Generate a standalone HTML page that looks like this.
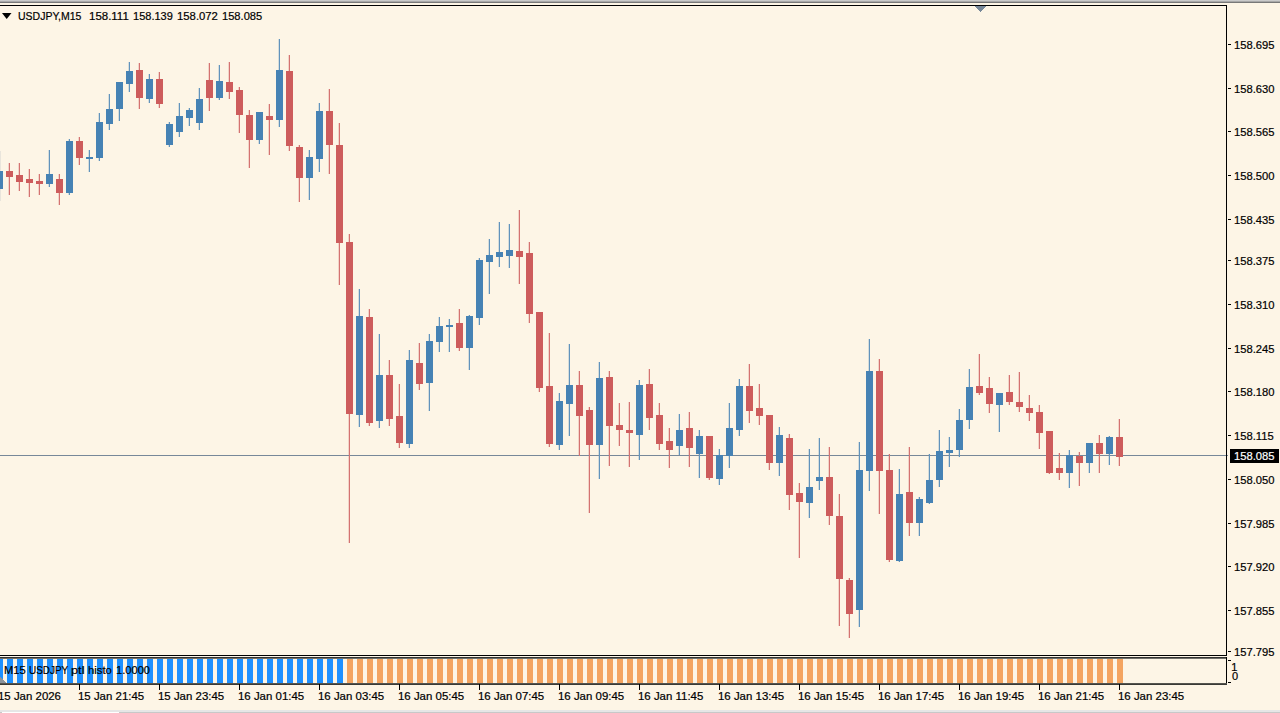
<!DOCTYPE html>
<html><head><meta charset="utf-8"><style>
html,body{margin:0;padding:0;width:1280px;height:713px;overflow:hidden;background:#FDF5E6;}
.t{position:absolute;font-family:"Liberation Sans",sans-serif;font-size:11px;line-height:12px;white-space:nowrap;-webkit-text-stroke:0.2px currentColor;}
</style></head><body>
<svg width="1280" height="713" viewBox="0 0 1280 713" shape-rendering="crispEdges" style="position:absolute;left:0;top:0"><rect x="0" y="0" width="1280" height="1" fill="#cacaca"/><rect x="0" y="1" width="1280" height="1" fill="#a8a8a8"/><rect x="0" y="2" width="1280" height="1" fill="#787878"/><rect x="-2" y="171" width="1" height="0" fill="#d5dcdb"/><rect x="8" y="163" width="1" height="32" fill="#f2d3c8"/><rect x="18" y="163" width="1" height="28" fill="#f2d3c8"/><rect x="28" y="169" width="1" height="28" fill="#f2d3c8"/><rect x="38" y="174" width="1" height="21" fill="#f2d3c8"/><rect x="48" y="150" width="1" height="37" fill="#d5dcdb"/><rect x="58" y="174" width="1" height="31" fill="#f2d3c8"/><rect x="68" y="139" width="1" height="56" fill="#d5dcdb"/><rect x="78" y="137" width="1" height="28" fill="#f2d3c8"/><rect x="88" y="150" width="1" height="22" fill="#d5dcdb"/><rect x="98" y="113" width="1" height="48" fill="#d5dcdb"/><rect x="108" y="94" width="1" height="36" fill="#d5dcdb"/><rect x="118" y="82" width="1" height="39" fill="#d5dcdb"/><rect x="128" y="62" width="1" height="30" fill="#d5dcdb"/><rect x="138" y="63" width="1" height="46" fill="#f2d3c8"/><rect x="148" y="74" width="1" height="29" fill="#d5dcdb"/><rect x="158" y="72" width="1" height="36" fill="#f2d3c8"/><rect x="168" y="122" width="1" height="25" fill="#d5dcdb"/><rect x="178" y="103" width="1" height="34" fill="#d5dcdb"/><rect x="188" y="108" width="1" height="18" fill="#d5dcdb"/><rect x="198" y="88" width="1" height="42" fill="#d5dcdb"/><rect x="208" y="63" width="1" height="48" fill="#f2d3c8"/><rect x="218" y="65" width="1" height="35" fill="#d5dcdb"/><rect x="228" y="62" width="1" height="37" fill="#f2d3c8"/><rect x="238" y="87" width="1" height="46" fill="#f2d3c8"/><rect x="248" y="110" width="1" height="58" fill="#f2d3c8"/><rect x="258" y="112" width="1" height="32" fill="#d5dcdb"/><rect x="268" y="104" width="1" height="51" fill="#f2d3c8"/><rect x="278" y="39" width="1" height="88" fill="#d5dcdb"/><rect x="288" y="55" width="1" height="96" fill="#f2d3c8"/><rect x="298" y="145" width="1" height="57" fill="#f2d3c8"/><rect x="308" y="150" width="1" height="50" fill="#d5dcdb"/><rect x="318" y="103" width="1" height="69" fill="#d5dcdb"/><rect x="328" y="89" width="1" height="85" fill="#f2d3c8"/><rect x="338" y="123" width="1" height="162" fill="#f2d3c8"/><rect x="348" y="234" width="1" height="309" fill="#f2d3c8"/><rect x="358" y="289" width="1" height="138" fill="#d5dcdb"/><rect x="368" y="309" width="1" height="117" fill="#f2d3c8"/><rect x="378" y="334" width="1" height="94" fill="#d5dcdb"/><rect x="388" y="360" width="1" height="66" fill="#f2d3c8"/><rect x="398" y="384" width="1" height="64" fill="#f2d3c8"/><rect x="408" y="350" width="1" height="98" fill="#d5dcdb"/><rect x="418" y="343" width="1" height="47" fill="#f2d3c8"/><rect x="428" y="334" width="1" height="77" fill="#d5dcdb"/><rect x="438" y="317" width="1" height="35" fill="#d5dcdb"/><rect x="448" y="319" width="1" height="33" fill="#d5dcdb"/><rect x="458" y="309" width="1" height="42" fill="#f2d3c8"/><rect x="468" y="315" width="1" height="55" fill="#d5dcdb"/><rect x="478" y="258" width="1" height="67" fill="#d5dcdb"/><rect x="488" y="239" width="1" height="55" fill="#d5dcdb"/><rect x="498" y="222" width="1" height="45" fill="#d5dcdb"/><rect x="508" y="224" width="1" height="44" fill="#d5dcdb"/><rect x="518" y="210" width="1" height="74" fill="#f2d3c8"/><rect x="528" y="242" width="1" height="81" fill="#f2d3c8"/><rect x="538" y="312" width="1" height="80" fill="#f2d3c8"/><rect x="548" y="333" width="1" height="114" fill="#f2d3c8"/><rect x="558" y="393" width="1" height="57" fill="#d5dcdb"/><rect x="568" y="344" width="1" height="92" fill="#d5dcdb"/><rect x="578" y="371" width="1" height="85" fill="#f2d3c8"/><rect x="588" y="407" width="1" height="106" fill="#f2d3c8"/><rect x="598" y="362" width="1" height="117" fill="#d5dcdb"/><rect x="608" y="371" width="1" height="95" fill="#f2d3c8"/><rect x="618" y="403" width="1" height="43" fill="#f2d3c8"/><rect x="628" y="402" width="1" height="65" fill="#f2d3c8"/><rect x="638" y="380" width="1" height="80" fill="#d5dcdb"/><rect x="648" y="369" width="1" height="61" fill="#f2d3c8"/><rect x="658" y="403" width="1" height="47" fill="#f2d3c8"/><rect x="668" y="428" width="1" height="40" fill="#f2d3c8"/><rect x="678" y="414" width="1" height="41" fill="#d5dcdb"/><rect x="688" y="412" width="1" height="55" fill="#f2d3c8"/><rect x="698" y="430" width="1" height="48" fill="#d5dcdb"/><rect x="708" y="436" width="1" height="44" fill="#f2d3c8"/><rect x="718" y="449" width="1" height="36" fill="#d5dcdb"/><rect x="728" y="403" width="1" height="65" fill="#d5dcdb"/><rect x="738" y="379" width="1" height="57" fill="#d5dcdb"/><rect x="748" y="364" width="1" height="59" fill="#f2d3c8"/><rect x="758" y="384" width="1" height="41" fill="#f2d3c8"/><rect x="768" y="415" width="1" height="55" fill="#f2d3c8"/><rect x="778" y="427" width="1" height="49" fill="#d5dcdb"/><rect x="788" y="434" width="1" height="76" fill="#f2d3c8"/><rect x="798" y="483" width="1" height="75" fill="#f2d3c8"/><rect x="808" y="449" width="1" height="69" fill="#d5dcdb"/><rect x="818" y="438" width="1" height="52" fill="#d5dcdb"/><rect x="828" y="447" width="1" height="78" fill="#f2d3c8"/><rect x="838" y="494" width="1" height="132" fill="#f2d3c8"/><rect x="848" y="578" width="1" height="60" fill="#f2d3c8"/><rect x="858" y="442" width="1" height="185" fill="#d5dcdb"/><rect x="868" y="339" width="1" height="152" fill="#d5dcdb"/><rect x="878" y="359" width="1" height="155" fill="#f2d3c8"/><rect x="888" y="454" width="1" height="108" fill="#f2d3c8"/><rect x="898" y="469" width="1" height="93" fill="#d5dcdb"/><rect x="908" y="447" width="1" height="89" fill="#f2d3c8"/><rect x="918" y="497" width="1" height="39" fill="#d5dcdb"/><rect x="928" y="454" width="1" height="50" fill="#d5dcdb"/><rect x="938" y="430" width="1" height="57" fill="#d5dcdb"/><rect x="948" y="437" width="1" height="30" fill="#d5dcdb"/><rect x="958" y="409" width="1" height="48" fill="#d5dcdb"/><rect x="968" y="369" width="1" height="60" fill="#d5dcdb"/><rect x="978" y="354" width="1" height="41" fill="#f2d3c8"/><rect x="988" y="377" width="1" height="36" fill="#f2d3c8"/><rect x="998" y="393" width="1" height="39" fill="#d5dcdb"/><rect x="1008" y="375" width="1" height="30" fill="#f2d3c8"/><rect x="1018" y="372" width="1" height="40" fill="#f2d3c8"/><rect x="1028" y="395" width="1" height="26" fill="#f2d3c8"/><rect x="1038" y="405" width="1" height="44" fill="#f2d3c8"/><rect x="1048" y="431" width="1" height="43" fill="#f2d3c8"/><rect x="1058" y="453" width="1" height="27" fill="#f2d3c8"/><rect x="1068" y="450" width="1" height="38" fill="#d5dcdb"/><rect x="1078" y="452" width="1" height="34" fill="#f2d3c8"/><rect x="1088" y="443" width="1" height="30" fill="#d5dcdb"/><rect x="1098" y="435" width="1" height="38" fill="#f2d3c8"/><rect x="1108" y="436" width="1" height="29" fill="#d5dcdb"/><rect x="1118" y="419" width="1" height="47" fill="#f2d3c8"/><rect x="0" y="455" width="1228" height="1" fill="#778899"/><rect x="0" y="151" width="1" height="50" fill="#e9e5dc"/><rect x="0" y="171" width="3" height="18" fill="#4682B4"/><rect x="9" y="163" width="1" height="32" fill="#d47371"/><rect x="6" y="171" width="7" height="6" fill="#CD5C5C"/><rect x="19" y="163" width="1" height="28" fill="#d47371"/><rect x="16" y="175" width="7" height="7" fill="#CD5C5C"/><rect x="29" y="169" width="1" height="28" fill="#d47371"/><rect x="26" y="179" width="7" height="4" fill="#CD5C5C"/><rect x="39" y="174" width="1" height="21" fill="#d47371"/><rect x="36" y="181" width="7" height="3" fill="#CD5C5C"/><rect x="49" y="150" width="1" height="37" fill="#6193bc"/><rect x="46" y="174" width="7" height="10" fill="#4682B4"/><rect x="59" y="174" width="1" height="31" fill="#d47371"/><rect x="56" y="179" width="7" height="14" fill="#CD5C5C"/><rect x="69" y="139" width="1" height="56" fill="#6193bc"/><rect x="66" y="141" width="7" height="52" fill="#4682B4"/><rect x="79" y="137" width="1" height="28" fill="#d47371"/><rect x="76" y="141" width="7" height="17" fill="#CD5C5C"/><rect x="89" y="150" width="1" height="22" fill="#6193bc"/><rect x="86" y="157" width="7" height="2" fill="#4682B4"/><rect x="99" y="113" width="1" height="48" fill="#6193bc"/><rect x="96" y="122" width="7" height="36" fill="#4682B4"/><rect x="109" y="94" width="1" height="36" fill="#6193bc"/><rect x="106" y="109" width="7" height="15" fill="#4682B4"/><rect x="119" y="82" width="1" height="39" fill="#6193bc"/><rect x="116" y="82" width="7" height="27" fill="#4682B4"/><rect x="129" y="62" width="1" height="30" fill="#6193bc"/><rect x="126" y="71" width="7" height="13" fill="#4682B4"/><rect x="139" y="63" width="1" height="46" fill="#d47371"/><rect x="136" y="70" width="7" height="28" fill="#CD5C5C"/><rect x="149" y="74" width="1" height="29" fill="#6193bc"/><rect x="146" y="79" width="7" height="20" fill="#4682B4"/><rect x="159" y="72" width="1" height="36" fill="#d47371"/><rect x="156" y="79" width="7" height="25" fill="#CD5C5C"/><rect x="169" y="122" width="1" height="25" fill="#6193bc"/><rect x="166" y="124" width="7" height="21" fill="#4682B4"/><rect x="179" y="103" width="1" height="34" fill="#6193bc"/><rect x="176" y="116" width="7" height="16" fill="#4682B4"/><rect x="189" y="108" width="1" height="18" fill="#6193bc"/><rect x="186" y="110" width="7" height="8" fill="#4682B4"/><rect x="199" y="88" width="1" height="42" fill="#6193bc"/><rect x="196" y="99" width="7" height="24" fill="#4682B4"/><rect x="209" y="63" width="1" height="48" fill="#d47371"/><rect x="206" y="80" width="7" height="18" fill="#CD5C5C"/><rect x="219" y="65" width="1" height="35" fill="#6193bc"/><rect x="216" y="81" width="7" height="17" fill="#4682B4"/><rect x="229" y="62" width="1" height="37" fill="#d47371"/><rect x="226" y="82" width="7" height="10" fill="#CD5C5C"/><rect x="239" y="87" width="1" height="46" fill="#d47371"/><rect x="236" y="90" width="7" height="25" fill="#CD5C5C"/><rect x="249" y="110" width="1" height="58" fill="#d47371"/><rect x="246" y="115" width="7" height="25" fill="#CD5C5C"/><rect x="259" y="112" width="1" height="32" fill="#6193bc"/><rect x="256" y="112" width="7" height="28" fill="#4682B4"/><rect x="269" y="104" width="1" height="51" fill="#d47371"/><rect x="266" y="116" width="7" height="4" fill="#CD5C5C"/><rect x="279" y="39" width="1" height="88" fill="#6193bc"/><rect x="276" y="70" width="7" height="50" fill="#4682B4"/><rect x="289" y="55" width="1" height="96" fill="#d47371"/><rect x="286" y="71" width="7" height="75" fill="#CD5C5C"/><rect x="299" y="145" width="1" height="57" fill="#d47371"/><rect x="296" y="147" width="7" height="31" fill="#CD5C5C"/><rect x="309" y="150" width="1" height="50" fill="#6193bc"/><rect x="306" y="157" width="7" height="21" fill="#4682B4"/><rect x="319" y="103" width="1" height="69" fill="#6193bc"/><rect x="316" y="111" width="7" height="48" fill="#4682B4"/><rect x="329" y="89" width="1" height="85" fill="#d47371"/><rect x="326" y="111" width="7" height="34" fill="#CD5C5C"/><rect x="339" y="123" width="1" height="162" fill="#d47371"/><rect x="336" y="145" width="7" height="98" fill="#CD5C5C"/><rect x="349" y="234" width="1" height="309" fill="#d47371"/><rect x="346" y="242" width="7" height="172" fill="#CD5C5C"/><rect x="359" y="289" width="1" height="138" fill="#6193bc"/><rect x="356" y="316" width="7" height="99" fill="#4682B4"/><rect x="369" y="309" width="1" height="117" fill="#d47371"/><rect x="366" y="317" width="7" height="106" fill="#CD5C5C"/><rect x="379" y="334" width="1" height="94" fill="#6193bc"/><rect x="376" y="375" width="7" height="46" fill="#4682B4"/><rect x="389" y="360" width="1" height="66" fill="#d47371"/><rect x="386" y="375" width="7" height="44" fill="#CD5C5C"/><rect x="399" y="384" width="1" height="64" fill="#d47371"/><rect x="396" y="416" width="7" height="27" fill="#CD5C5C"/><rect x="409" y="350" width="1" height="98" fill="#6193bc"/><rect x="406" y="360" width="7" height="84" fill="#4682B4"/><rect x="419" y="343" width="1" height="47" fill="#d47371"/><rect x="416" y="363" width="7" height="21" fill="#CD5C5C"/><rect x="429" y="334" width="1" height="77" fill="#6193bc"/><rect x="426" y="341" width="7" height="42" fill="#4682B4"/><rect x="439" y="317" width="1" height="35" fill="#6193bc"/><rect x="436" y="326" width="7" height="16" fill="#4682B4"/><rect x="449" y="319" width="1" height="33" fill="#6193bc"/><rect x="446" y="325" width="7" height="2" fill="#4682B4"/><rect x="459" y="309" width="1" height="42" fill="#d47371"/><rect x="456" y="323" width="7" height="25" fill="#CD5C5C"/><rect x="469" y="315" width="1" height="55" fill="#6193bc"/><rect x="466" y="316" width="7" height="32" fill="#4682B4"/><rect x="479" y="258" width="1" height="67" fill="#6193bc"/><rect x="476" y="260" width="7" height="58" fill="#4682B4"/><rect x="489" y="239" width="1" height="55" fill="#6193bc"/><rect x="486" y="255" width="7" height="7" fill="#4682B4"/><rect x="499" y="222" width="1" height="45" fill="#6193bc"/><rect x="496" y="252" width="7" height="5" fill="#4682B4"/><rect x="509" y="224" width="1" height="44" fill="#6193bc"/><rect x="506" y="250" width="7" height="6" fill="#4682B4"/><rect x="519" y="210" width="1" height="74" fill="#d47371"/><rect x="516" y="251" width="7" height="6" fill="#CD5C5C"/><rect x="529" y="242" width="1" height="81" fill="#d47371"/><rect x="526" y="253" width="7" height="61" fill="#CD5C5C"/><rect x="539" y="312" width="1" height="80" fill="#d47371"/><rect x="536" y="312" width="7" height="76" fill="#CD5C5C"/><rect x="549" y="333" width="1" height="114" fill="#d47371"/><rect x="546" y="386" width="7" height="58" fill="#CD5C5C"/><rect x="559" y="393" width="1" height="57" fill="#6193bc"/><rect x="556" y="401" width="7" height="44" fill="#4682B4"/><rect x="569" y="344" width="1" height="92" fill="#6193bc"/><rect x="566" y="385" width="7" height="19" fill="#4682B4"/><rect x="579" y="371" width="1" height="85" fill="#d47371"/><rect x="576" y="385" width="7" height="31" fill="#CD5C5C"/><rect x="589" y="407" width="1" height="106" fill="#d47371"/><rect x="586" y="410" width="7" height="35" fill="#CD5C5C"/><rect x="599" y="362" width="1" height="117" fill="#6193bc"/><rect x="596" y="378" width="7" height="67" fill="#4682B4"/><rect x="609" y="371" width="1" height="95" fill="#d47371"/><rect x="606" y="377" width="7" height="49" fill="#CD5C5C"/><rect x="619" y="403" width="1" height="43" fill="#d47371"/><rect x="616" y="425" width="7" height="5" fill="#CD5C5C"/><rect x="629" y="402" width="1" height="65" fill="#d47371"/><rect x="626" y="430" width="7" height="3" fill="#CD5C5C"/><rect x="639" y="380" width="1" height="80" fill="#6193bc"/><rect x="636" y="385" width="7" height="50" fill="#4682B4"/><rect x="649" y="369" width="1" height="61" fill="#d47371"/><rect x="646" y="384" width="7" height="34" fill="#CD5C5C"/><rect x="659" y="403" width="1" height="47" fill="#d47371"/><rect x="656" y="415" width="7" height="29" fill="#CD5C5C"/><rect x="669" y="428" width="1" height="40" fill="#d47371"/><rect x="666" y="441" width="7" height="9" fill="#CD5C5C"/><rect x="679" y="414" width="1" height="41" fill="#6193bc"/><rect x="676" y="430" width="7" height="16" fill="#4682B4"/><rect x="689" y="412" width="1" height="55" fill="#d47371"/><rect x="686" y="428" width="7" height="20" fill="#CD5C5C"/><rect x="699" y="430" width="1" height="48" fill="#6193bc"/><rect x="696" y="436" width="7" height="18" fill="#4682B4"/><rect x="709" y="436" width="1" height="44" fill="#d47371"/><rect x="706" y="436" width="7" height="42" fill="#CD5C5C"/><rect x="719" y="449" width="1" height="36" fill="#6193bc"/><rect x="716" y="455" width="7" height="24" fill="#4682B4"/><rect x="729" y="403" width="1" height="65" fill="#6193bc"/><rect x="726" y="428" width="7" height="28" fill="#4682B4"/><rect x="739" y="379" width="1" height="57" fill="#6193bc"/><rect x="736" y="386" width="7" height="44" fill="#4682B4"/><rect x="749" y="364" width="1" height="59" fill="#d47371"/><rect x="746" y="386" width="7" height="25" fill="#CD5C5C"/><rect x="759" y="384" width="1" height="41" fill="#d47371"/><rect x="756" y="408" width="7" height="8" fill="#CD5C5C"/><rect x="769" y="415" width="1" height="55" fill="#d47371"/><rect x="766" y="415" width="7" height="48" fill="#CD5C5C"/><rect x="779" y="427" width="1" height="49" fill="#6193bc"/><rect x="776" y="435" width="7" height="28" fill="#4682B4"/><rect x="789" y="434" width="1" height="76" fill="#d47371"/><rect x="786" y="438" width="7" height="57" fill="#CD5C5C"/><rect x="799" y="483" width="1" height="75" fill="#d47371"/><rect x="796" y="493" width="7" height="9" fill="#CD5C5C"/><rect x="809" y="449" width="1" height="69" fill="#6193bc"/><rect x="806" y="487" width="7" height="16" fill="#4682B4"/><rect x="819" y="438" width="1" height="52" fill="#6193bc"/><rect x="816" y="477" width="7" height="4" fill="#4682B4"/><rect x="829" y="447" width="1" height="78" fill="#d47371"/><rect x="826" y="477" width="7" height="39" fill="#CD5C5C"/><rect x="839" y="494" width="1" height="132" fill="#d47371"/><rect x="836" y="516" width="7" height="63" fill="#CD5C5C"/><rect x="849" y="578" width="1" height="60" fill="#d47371"/><rect x="846" y="580" width="7" height="34" fill="#CD5C5C"/><rect x="859" y="442" width="1" height="185" fill="#6193bc"/><rect x="856" y="470" width="7" height="140" fill="#4682B4"/><rect x="869" y="339" width="1" height="152" fill="#6193bc"/><rect x="866" y="371" width="7" height="100" fill="#4682B4"/><rect x="879" y="359" width="1" height="155" fill="#d47371"/><rect x="876" y="371" width="7" height="100" fill="#CD5C5C"/><rect x="889" y="454" width="1" height="108" fill="#d47371"/><rect x="886" y="470" width="7" height="90" fill="#CD5C5C"/><rect x="899" y="469" width="1" height="93" fill="#6193bc"/><rect x="896" y="494" width="7" height="67" fill="#4682B4"/><rect x="909" y="447" width="1" height="89" fill="#d47371"/><rect x="906" y="492" width="7" height="31" fill="#CD5C5C"/><rect x="919" y="497" width="1" height="39" fill="#6193bc"/><rect x="916" y="499" width="7" height="24" fill="#4682B4"/><rect x="929" y="454" width="1" height="50" fill="#6193bc"/><rect x="926" y="480" width="7" height="23" fill="#4682B4"/><rect x="939" y="430" width="1" height="57" fill="#6193bc"/><rect x="936" y="451" width="7" height="29" fill="#4682B4"/><rect x="949" y="437" width="1" height="30" fill="#6193bc"/><rect x="946" y="450" width="7" height="3" fill="#4682B4"/><rect x="959" y="409" width="1" height="48" fill="#6193bc"/><rect x="956" y="420" width="7" height="30" fill="#4682B4"/><rect x="969" y="369" width="1" height="60" fill="#6193bc"/><rect x="966" y="387" width="7" height="33" fill="#4682B4"/><rect x="979" y="354" width="1" height="41" fill="#d47371"/><rect x="976" y="386" width="7" height="7" fill="#CD5C5C"/><rect x="989" y="377" width="1" height="36" fill="#d47371"/><rect x="986" y="388" width="7" height="16" fill="#CD5C5C"/><rect x="999" y="393" width="1" height="39" fill="#6193bc"/><rect x="996" y="393" width="7" height="12" fill="#4682B4"/><rect x="1009" y="375" width="1" height="30" fill="#d47371"/><rect x="1006" y="392" width="7" height="10" fill="#CD5C5C"/><rect x="1019" y="372" width="1" height="40" fill="#d47371"/><rect x="1016" y="402" width="7" height="5" fill="#CD5C5C"/><rect x="1029" y="395" width="1" height="26" fill="#d47371"/><rect x="1026" y="408" width="7" height="5" fill="#CD5C5C"/><rect x="1039" y="405" width="1" height="44" fill="#d47371"/><rect x="1036" y="412" width="7" height="21" fill="#CD5C5C"/><rect x="1049" y="431" width="1" height="43" fill="#d47371"/><rect x="1046" y="431" width="7" height="42" fill="#CD5C5C"/><rect x="1059" y="453" width="1" height="27" fill="#d47371"/><rect x="1056" y="468" width="7" height="5" fill="#CD5C5C"/><rect x="1069" y="450" width="1" height="38" fill="#6193bc"/><rect x="1066" y="455" width="7" height="18" fill="#4682B4"/><rect x="1079" y="452" width="1" height="34" fill="#d47371"/><rect x="1076" y="456" width="7" height="7" fill="#CD5C5C"/><rect x="1089" y="443" width="1" height="30" fill="#6193bc"/><rect x="1086" y="443" width="7" height="20" fill="#4682B4"/><rect x="1099" y="435" width="1" height="38" fill="#d47371"/><rect x="1096" y="443" width="7" height="11" fill="#CD5C5C"/><rect x="1109" y="436" width="1" height="29" fill="#6193bc"/><rect x="1106" y="437" width="7" height="17" fill="#4682B4"/><rect x="1119" y="419" width="1" height="47" fill="#d47371"/><rect x="1116" y="437" width="7" height="20" fill="#CD5C5C"/><rect x="0" y="5" width="1227" height="1" fill="#000"/><rect x="1226" y="5" width="1" height="651" fill="#000"/><rect x="0" y="655" width="1227" height="1" fill="#000"/><rect x="0" y="657" width="1227" height="1" fill="#333333"/><rect x="0" y="658" width="1227" height="1" fill="#70706a"/><rect x="1226" y="657" width="1" height="28" fill="#000"/><rect x="0" y="683" width="1227" height="1" fill="#55554f"/><rect x="0" y="684" width="1227" height="1" fill="#3a3a36"/><rect x="0" y="659" width="3" height="24" fill="#1E90FF"/><rect x="7" y="659" width="6" height="24" fill="#1E90FF"/><rect x="17" y="659" width="6" height="24" fill="#1E90FF"/><rect x="27" y="659" width="6" height="24" fill="#1E90FF"/><rect x="37" y="659" width="6" height="24" fill="#1E90FF"/><rect x="47" y="659" width="6" height="24" fill="#1E90FF"/><rect x="57" y="659" width="6" height="24" fill="#1E90FF"/><rect x="67" y="659" width="6" height="24" fill="#1E90FF"/><rect x="77" y="659" width="6" height="24" fill="#1E90FF"/><rect x="87" y="659" width="6" height="24" fill="#1E90FF"/><rect x="97" y="659" width="6" height="24" fill="#1E90FF"/><rect x="107" y="659" width="6" height="24" fill="#1E90FF"/><rect x="117" y="659" width="6" height="24" fill="#1E90FF"/><rect x="127" y="659" width="6" height="24" fill="#1E90FF"/><rect x="137" y="659" width="6" height="24" fill="#1E90FF"/><rect x="147" y="659" width="6" height="24" fill="#1E90FF"/><rect x="157" y="659" width="6" height="24" fill="#1E90FF"/><rect x="167" y="659" width="6" height="24" fill="#1E90FF"/><rect x="177" y="659" width="6" height="24" fill="#1E90FF"/><rect x="187" y="659" width="6" height="24" fill="#1E90FF"/><rect x="197" y="659" width="6" height="24" fill="#1E90FF"/><rect x="207" y="659" width="6" height="24" fill="#1E90FF"/><rect x="217" y="659" width="6" height="24" fill="#1E90FF"/><rect x="227" y="659" width="6" height="24" fill="#1E90FF"/><rect x="237" y="659" width="6" height="24" fill="#1E90FF"/><rect x="247" y="659" width="6" height="24" fill="#1E90FF"/><rect x="257" y="659" width="6" height="24" fill="#1E90FF"/><rect x="267" y="659" width="6" height="24" fill="#1E90FF"/><rect x="277" y="659" width="6" height="24" fill="#1E90FF"/><rect x="287" y="659" width="6" height="24" fill="#1E90FF"/><rect x="297" y="659" width="6" height="24" fill="#1E90FF"/><rect x="307" y="659" width="6" height="24" fill="#1E90FF"/><rect x="317" y="659" width="6" height="24" fill="#1E90FF"/><rect x="327" y="659" width="6" height="24" fill="#1E90FF"/><rect x="337" y="659" width="6" height="24" fill="#1E90FF"/><rect x="347" y="659" width="6" height="24" fill="#F4A460"/><rect x="357" y="659" width="6" height="24" fill="#F4A460"/><rect x="367" y="659" width="6" height="24" fill="#F4A460"/><rect x="377" y="659" width="6" height="24" fill="#F4A460"/><rect x="387" y="659" width="6" height="24" fill="#F4A460"/><rect x="397" y="659" width="6" height="24" fill="#F4A460"/><rect x="407" y="659" width="6" height="24" fill="#F4A460"/><rect x="417" y="659" width="6" height="24" fill="#F4A460"/><rect x="427" y="659" width="6" height="24" fill="#F4A460"/><rect x="437" y="659" width="6" height="24" fill="#F4A460"/><rect x="447" y="659" width="6" height="24" fill="#F4A460"/><rect x="457" y="659" width="6" height="24" fill="#F4A460"/><rect x="467" y="659" width="6" height="24" fill="#F4A460"/><rect x="477" y="659" width="6" height="24" fill="#F4A460"/><rect x="487" y="659" width="6" height="24" fill="#F4A460"/><rect x="497" y="659" width="6" height="24" fill="#F4A460"/><rect x="507" y="659" width="6" height="24" fill="#F4A460"/><rect x="517" y="659" width="6" height="24" fill="#F4A460"/><rect x="527" y="659" width="6" height="24" fill="#F4A460"/><rect x="537" y="659" width="6" height="24" fill="#F4A460"/><rect x="547" y="659" width="6" height="24" fill="#F4A460"/><rect x="557" y="659" width="6" height="24" fill="#F4A460"/><rect x="567" y="659" width="6" height="24" fill="#F4A460"/><rect x="577" y="659" width="6" height="24" fill="#F4A460"/><rect x="587" y="659" width="6" height="24" fill="#F4A460"/><rect x="597" y="659" width="6" height="24" fill="#F4A460"/><rect x="607" y="659" width="6" height="24" fill="#F4A460"/><rect x="617" y="659" width="6" height="24" fill="#F4A460"/><rect x="627" y="659" width="6" height="24" fill="#F4A460"/><rect x="637" y="659" width="6" height="24" fill="#F4A460"/><rect x="647" y="659" width="6" height="24" fill="#F4A460"/><rect x="657" y="659" width="6" height="24" fill="#F4A460"/><rect x="667" y="659" width="6" height="24" fill="#F4A460"/><rect x="677" y="659" width="6" height="24" fill="#F4A460"/><rect x="687" y="659" width="6" height="24" fill="#F4A460"/><rect x="697" y="659" width="6" height="24" fill="#F4A460"/><rect x="707" y="659" width="6" height="24" fill="#F4A460"/><rect x="717" y="659" width="6" height="24" fill="#F4A460"/><rect x="727" y="659" width="6" height="24" fill="#F4A460"/><rect x="737" y="659" width="6" height="24" fill="#F4A460"/><rect x="747" y="659" width="6" height="24" fill="#F4A460"/><rect x="757" y="659" width="6" height="24" fill="#F4A460"/><rect x="767" y="659" width="6" height="24" fill="#F4A460"/><rect x="777" y="659" width="6" height="24" fill="#F4A460"/><rect x="787" y="659" width="6" height="24" fill="#F4A460"/><rect x="797" y="659" width="6" height="24" fill="#F4A460"/><rect x="807" y="659" width="6" height="24" fill="#F4A460"/><rect x="817" y="659" width="6" height="24" fill="#F4A460"/><rect x="827" y="659" width="6" height="24" fill="#F4A460"/><rect x="837" y="659" width="6" height="24" fill="#F4A460"/><rect x="847" y="659" width="6" height="24" fill="#F4A460"/><rect x="857" y="659" width="6" height="24" fill="#F4A460"/><rect x="867" y="659" width="6" height="24" fill="#F4A460"/><rect x="877" y="659" width="6" height="24" fill="#F4A460"/><rect x="887" y="659" width="6" height="24" fill="#F4A460"/><rect x="897" y="659" width="6" height="24" fill="#F4A460"/><rect x="907" y="659" width="6" height="24" fill="#F4A460"/><rect x="917" y="659" width="6" height="24" fill="#F4A460"/><rect x="927" y="659" width="6" height="24" fill="#F4A460"/><rect x="937" y="659" width="6" height="24" fill="#F4A460"/><rect x="947" y="659" width="6" height="24" fill="#F4A460"/><rect x="957" y="659" width="6" height="24" fill="#F4A460"/><rect x="967" y="659" width="6" height="24" fill="#F4A460"/><rect x="977" y="659" width="6" height="24" fill="#F4A460"/><rect x="987" y="659" width="6" height="24" fill="#F4A460"/><rect x="997" y="659" width="6" height="24" fill="#F4A460"/><rect x="1007" y="659" width="6" height="24" fill="#F4A460"/><rect x="1017" y="659" width="6" height="24" fill="#F4A460"/><rect x="1027" y="659" width="6" height="24" fill="#F4A460"/><rect x="1037" y="659" width="6" height="24" fill="#F4A460"/><rect x="1047" y="659" width="6" height="24" fill="#F4A460"/><rect x="1057" y="659" width="6" height="24" fill="#F4A460"/><rect x="1067" y="659" width="6" height="24" fill="#F4A460"/><rect x="1077" y="659" width="6" height="24" fill="#F4A460"/><rect x="1087" y="659" width="6" height="24" fill="#F4A460"/><rect x="1097" y="659" width="6" height="24" fill="#F4A460"/><rect x="1107" y="659" width="6" height="24" fill="#F4A460"/><rect x="1117" y="659" width="6" height="24" fill="#F4A460"/><rect x="1228" y="44" width="3" height="1" fill="#000"/><rect x="1228" y="88" width="3" height="1" fill="#000"/><rect x="1228" y="131" width="3" height="1" fill="#000"/><rect x="1228" y="175" width="3" height="1" fill="#000"/><rect x="1228" y="219" width="3" height="1" fill="#000"/><rect x="1228" y="260" width="3" height="1" fill="#000"/><rect x="1228" y="304" width="3" height="1" fill="#000"/><rect x="1228" y="348" width="3" height="1" fill="#000"/><rect x="1228" y="391" width="3" height="1" fill="#000"/><rect x="1228" y="435" width="3" height="1" fill="#000"/><rect x="1228" y="479" width="3" height="1" fill="#000"/><rect x="1228" y="523" width="3" height="1" fill="#000"/><rect x="1228" y="566" width="3" height="1" fill="#000"/><rect x="1228" y="610" width="3" height="1" fill="#000"/><rect x="1228" y="651" width="3" height="1" fill="#000"/><rect x="1228" y="660" width="3" height="1" fill="#000"/><rect x="1228" y="682" width="3" height="1" fill="#000"/><rect x="79" y="684" width="1" height="6" fill="#000"/><rect x="159" y="684" width="1" height="6" fill="#000"/><rect x="239" y="684" width="1" height="6" fill="#000"/><rect x="319" y="684" width="1" height="6" fill="#000"/><rect x="399" y="684" width="1" height="6" fill="#000"/><rect x="479" y="684" width="1" height="6" fill="#000"/><rect x="559" y="684" width="1" height="6" fill="#000"/><rect x="639" y="684" width="1" height="6" fill="#000"/><rect x="719" y="684" width="1" height="6" fill="#000"/><rect x="799" y="684" width="1" height="6" fill="#000"/><rect x="879" y="684" width="1" height="6" fill="#000"/><rect x="959" y="684" width="1" height="6" fill="#000"/><rect x="1039" y="684" width="1" height="6" fill="#000"/><rect x="1119" y="684" width="1" height="6" fill="#000"/><polygon points="974,6 986,6 980,12" fill="#778899"/><polygon points="0,677 0,683 6,683" fill="#8c949c"/><rect x="1230" y="449" width="49" height="14" fill="#000"/><rect x="0" y="710" width="1280" height="2" fill="#e6e6e6"/><rect x="0" y="712" width="1280" height="1" fill="#c8c8c8"/><rect x="2" y="712" width="117" height="1" fill="#ffffff"/></svg>
<svg width="13" height="9" style="position:absolute;left:2px;top:12px" shape-rendering="geometricPrecision"><polygon points="0,1 9.5,1 4.7,7" fill="#000"/></svg>
<div class="t" style="left:17.65px;top:10px;color:#000;transform:scaleX(0.9538);transform-origin:0 0;">USDJPY,M15</div><div class="t" style="left:88.66px;top:10px;color:#000;transform:scaleX(1.0432);transform-origin:0 0;">158.111</div><div class="t" style="left:133.10px;top:10px;color:#000;">158.139</div><div class="t" style="left:177.17px;top:10px;color:#000;transform:scaleX(1.0289);transform-origin:0 0;">158.072</div><div class="t" style="left:221.59px;top:10px;color:#000;transform:scaleX(1.0103);transform-origin:0 0;">158.085</div><div class="t" style="left:3.69px;top:664px;color:#000;transform:scaleX(1.0150);transform-origin:0 0;">M15</div><div class="t" style="left:29.00px;top:664px;color:#000;transform:scaleX(0.9024);transform-origin:0 0;">USDJPY</div><div class="t" style="left:70.94px;top:664px;color:#000;transform:scaleX(1.1600);transform-origin:0 0;">ptl</div><div class="t" style="left:87.67px;top:664px;color:#000;transform:scaleX(1.0273);transform-origin:0 0;">histo</div><div class="t" style="left:115.59px;top:664px;color:#000;transform:scaleX(1.0125);transform-origin:0 0;">1.0000</div><div class="t" style="left:1231.20px;top:661px;color:#000;">1</div><div class="t" style="left:1232.00px;top:670px;color:#000;">0</div><div class="t" style="left:1233.68px;top:39px;color:#000;transform:scaleX(1.0200);transform-origin:0 0;">158.695</div><div class="t" style="left:1233.68px;top:83px;color:#000;transform:scaleX(1.0200);transform-origin:0 0;">158.630</div><div class="t" style="left:1233.68px;top:126px;color:#000;transform:scaleX(1.0200);transform-origin:0 0;">158.565</div><div class="t" style="left:1233.68px;top:170px;color:#000;transform:scaleX(1.0200);transform-origin:0 0;">158.500</div><div class="t" style="left:1233.68px;top:214px;color:#000;transform:scaleX(1.0200);transform-origin:0 0;">158.435</div><div class="t" style="left:1233.68px;top:255px;color:#000;transform:scaleX(1.0200);transform-origin:0 0;">158.375</div><div class="t" style="left:1233.68px;top:299px;color:#000;transform:scaleX(1.0200);transform-origin:0 0;">158.310</div><div class="t" style="left:1233.68px;top:343px;color:#000;transform:scaleX(1.0200);transform-origin:0 0;">158.245</div><div class="t" style="left:1233.68px;top:386px;color:#000;transform:scaleX(1.0200);transform-origin:0 0;">158.180</div><div class="t" style="left:1233.68px;top:430px;color:#000;transform:scaleX(1.0200);transform-origin:0 0;">158.115</div><div class="t" style="left:1233.68px;top:474px;color:#000;transform:scaleX(1.0200);transform-origin:0 0;">158.050</div><div class="t" style="left:1233.68px;top:518px;color:#000;transform:scaleX(1.0200);transform-origin:0 0;">157.985</div><div class="t" style="left:1233.68px;top:561px;color:#000;transform:scaleX(1.0200);transform-origin:0 0;">157.920</div><div class="t" style="left:1233.68px;top:605px;color:#000;transform:scaleX(1.0200);transform-origin:0 0;">157.855</div><div class="t" style="left:1233.68px;top:646px;color:#000;transform:scaleX(1.0200);transform-origin:0 0;">157.795</div><div class="t" style="left:1233.68px;top:450px;color:#fff;transform:scaleX(1.0200);transform-origin:0 0;">158.085</div><div class="t" style="left:-2.44px;top:690px;color:#000;transform:scaleX(1.0400);transform-origin:0 0;">15 Jan 2026</div><div class="t" style="left:77.56px;top:690px;color:#000;transform:scaleX(1.0400);transform-origin:0 0;">15 Jan 21:45</div><div class="t" style="left:157.56px;top:690px;color:#000;transform:scaleX(1.0400);transform-origin:0 0;">15 Jan 23:45</div><div class="t" style="left:237.56px;top:690px;color:#000;transform:scaleX(1.0400);transform-origin:0 0;">16 Jan 01:45</div><div class="t" style="left:317.56px;top:690px;color:#000;transform:scaleX(1.0400);transform-origin:0 0;">16 Jan 03:45</div><div class="t" style="left:397.56px;top:690px;color:#000;transform:scaleX(1.0400);transform-origin:0 0;">16 Jan 05:45</div><div class="t" style="left:477.56px;top:690px;color:#000;transform:scaleX(1.0400);transform-origin:0 0;">16 Jan 07:45</div><div class="t" style="left:557.56px;top:690px;color:#000;transform:scaleX(1.0400);transform-origin:0 0;">16 Jan 09:45</div><div class="t" style="left:637.56px;top:690px;color:#000;transform:scaleX(1.0400);transform-origin:0 0;">16 Jan 11:45</div><div class="t" style="left:717.56px;top:690px;color:#000;transform:scaleX(1.0400);transform-origin:0 0;">16 Jan 13:45</div><div class="t" style="left:797.56px;top:690px;color:#000;transform:scaleX(1.0400);transform-origin:0 0;">16 Jan 15:45</div><div class="t" style="left:877.56px;top:690px;color:#000;transform:scaleX(1.0400);transform-origin:0 0;">16 Jan 17:45</div><div class="t" style="left:957.56px;top:690px;color:#000;transform:scaleX(1.0400);transform-origin:0 0;">16 Jan 19:45</div><div class="t" style="left:1037.56px;top:690px;color:#000;transform:scaleX(1.0400);transform-origin:0 0;">16 Jan 21:45</div><div class="t" style="left:1117.56px;top:690px;color:#000;transform:scaleX(1.0400);transform-origin:0 0;">16 Jan 23:45</div>
</body></html>
